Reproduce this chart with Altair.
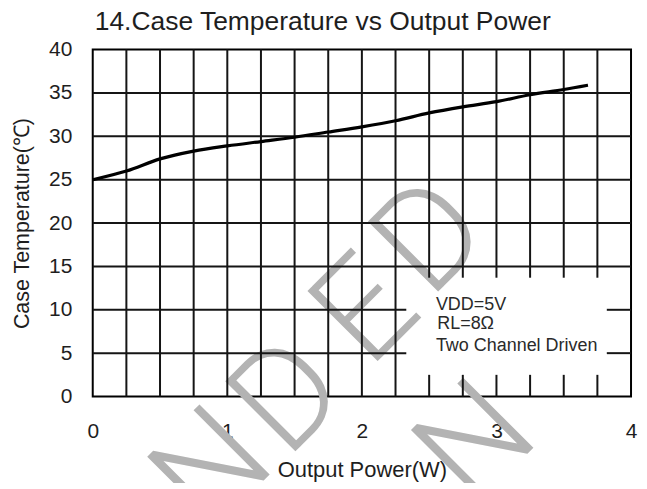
import altair as alt
import pandas as pd

# ---- data ----
power = [0.0, 0.25, 0.5, 0.75, 1.0, 1.25, 1.5, 1.75, 2.0, 2.25, 2.5, 2.75, 3.0, 3.25, 3.5, 3.68]
temp = [25.0, 26.0, 27.4, 28.3, 28.9, 29.4, 29.9, 30.5, 31.1, 31.8, 32.7, 33.4, 34.0, 34.8, 35.4, 35.9]

x_grid = [0.25, 0.5, 0.75, 1.0, 1.25, 1.5, 1.75, 2.0, 2.25, 2.5, 2.75, 3.0, 3.25, 3.5, 3.75]
y_grid = [5, 10, 15, 20, 25, 30, 35]
x_ticks = [0, 1, 2, 3, 4]
y_ticks = [0, 5, 10, 15, 20, 25, 30, 35, 40]

title_text = ["14.Case Temperature vs Output Power"]

# note box (data units) and its text
box_x = [2.33, 3.82]
box_y = [2.5, 13.7]
note_lines = ["VDD=5V", "RL=8Ω", "Two Channel Driven"]
note_x = [2.55, 2.56, 2.55]
note_y = [10.55, 8.35, 5.8]

# watermark letters (data units, centre of each letter)
wm_text = ["N", "D", "E", "D", "N"]
wm_x = [0.90, 1.46, 2.04, 2.52, 2.86]
wm_y = [-8.6, -0.2, 9.7, 18.2, -5.5]

# ---- build tables ----
curve = pd.DataFrame({"p": power, "t": temp})

vrows = []
for gx in x_grid:
    if box_x[0] < gx < box_x[1]:
        vrows.append({"p": gx, "t": 0, "t2": box_y[0]})
        vrows.append({"p": gx, "t": box_y[1], "t2": 40})
    else:
        vrows.append({"p": gx, "t": 0, "t2": 40})
vgrid = pd.DataFrame(vrows)

hrows = []
for gy in y_grid:
    if box_y[0] < gy < box_y[1]:
        hrows.append({"t": gy, "p": 0, "p2": box_x[0]})
        hrows.append({"t": gy, "p": box_x[1], "p2": 4})
    else:
        hrows.append({"t": gy, "p": 0, "p2": 4})
hgrid = pd.DataFrame(hrows)

notes = pd.DataFrame({"p": note_x, "t": note_y, "txt": note_lines})
wm = pd.DataFrame({"p": wm_x, "t": wm_y, "txt": wm_text})
ttl = pd.DataFrame({"txt": title_text})

FONT = "Liberation Sans"
xs = alt.Scale(domain=[0, 4], nice=False, zero=False)
ys = alt.Scale(domain=[0, 40], nice=False, zero=False)
xaxis = alt.Axis(values=x_ticks, grid=False, ticks=False, tickSize=0, domain=False,
                 labelFontSize=21, labelFont=FONT, labelColor="#1e1e1e", labelPadding=24,
                 labelFlush=False, format="d",
                 title="Output Power(W)", titleFont=FONT, titleFontSize=22,
                 titleFontWeight="normal", titleColor="#1e1e1e", titlePadding=18)
yaxis = alt.Axis(values=y_ticks, grid=False, ticks=False, tickSize=0, domain=False,
                 labelFontSize=21, labelFont=FONT, labelColor="#1e1e1e", labelPadding=21,
                 labelFlush=False, format="d",
                 title="Case Temperature(℃)", titleFont=FONT, titleFontSize=21.5,
                 titleFontWeight="normal", titleColor="#1e1e1e", titlePadding=15)


def X(field="p"):
    return alt.X(field, type="quantitative", scale=xs, axis=xaxis)


def Y(field="t"):
    return alt.Y(field, type="quantitative", scale=ys, axis=yaxis)


watermark = alt.Chart(wm).mark_text(
    font="Roboto", fontSize=140, fontWeight=300, color="#b3b3b3",
    angle=315, align="center", baseline="middle"
).encode(x=X(), y=Y(), text="txt:N")

vlines = alt.Chart(vgrid).mark_rule(color="#151515", strokeWidth=2).encode(
    x=X(), y=Y(), y2="t2:Q")
hlines = alt.Chart(hgrid).mark_rule(color="#151515", strokeWidth=2).encode(
    y=Y(), x=X(), x2="p2:Q")

line = alt.Chart(curve).mark_line(color="#000000", strokeWidth=3.2,
                                  interpolate="monotone").encode(x=X(), y=Y())

note = alt.Chart(notes).mark_text(font=FONT, fontSize=18, color="#2a2a2a",
                                  align="left", baseline="middle").encode(
    x=X(), y=Y(), text="txt:N")

title = alt.Chart(ttl).mark_text(font=FONT, fontSize=26.5, color="#1e1e1e",
                                 align="left", baseline="alphabetic").encode(
    x=alt.value(2), y=alt.value(-20), text="txt:N")

chart = alt.layer(watermark, vlines, hlines, line, note, title).properties(
    width=540, height=348,
    autosize=alt.AutoSizeParams(type="none"),
    padding={"left": 85, "top": 41, "right": 8, "bottom": 86},
).configure_view(stroke="#000000", strokeWidth=2)

chart.save("out.html", embed_options={"renderer": "svg", "actions": False})
